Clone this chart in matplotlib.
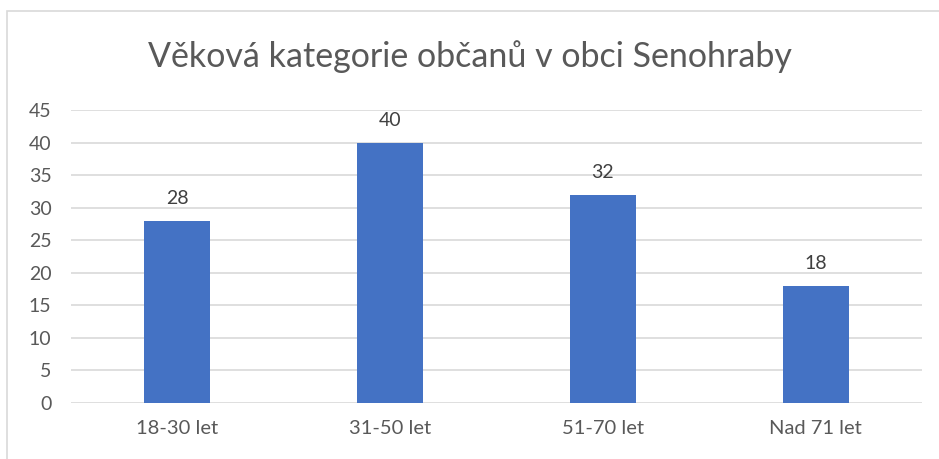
import matplotlib.pyplot as plt
import matplotlib.patches as mpatches

categories = ["18-30 let", "31-50 let", "51-70 let", "Nad 71 let"]
values = [28, 40, 32, 18]
yticks = [0, 5, 10, 15, 20, 25, 30, 35, 40, 45]
title = "Věková kategorie občanů v obci Senohraby"

plt.rcParams['font.family'] = ['Lato', 'DejaVu Sans']
text_color = "#595959"

fig = plt.figure(figsize=(9.39, 4.59), dpi=100)
fig.patches.append(mpatches.Rectangle((7 / 939, -0.1), 1.2, 1 - 11 / 459 + 0.1,
                                      transform=fig.transFigure, fill=False,
                                      edgecolor="#d9d9d9", linewidth=1.2))

ax = fig.add_axes([71 / 939, 1 - 403 / 459, (922 - 71) / 939, (403 - 110) / 459])
x = range(len(categories))
bars = ax.bar(x, values, width=0.31, color="#4472c4", zorder=3)
for b, v in zip(bars, values):
    ax.annotate(str(v), (b.get_x() + b.get_width() / 2, v), xytext=(0, 10),
                textcoords="offset points", ha="center", va="bottom",
                fontsize=14, color="#404040")

ax.set_xlim(-0.5, len(categories) - 0.5)
ax.set_ylim(0, 45)
ax.set_yticks(yticks)
ax.set_xticks(list(x))
ax.set_xticklabels(categories)
ax.yaxis.grid(True, color="#d9d9d9", linewidth=1.2, zorder=0)
ax.tick_params(axis="both", length=0, labelsize=14, labelcolor=text_color)
ax.tick_params(axis="x", labelsize=14.5, pad=12)
ax.tick_params(axis="y", pad=14)
for s in ax.spines.values():
    s.set_visible(False)

fig.text(0.5, 1 - 57 / 459, title, ha="center", va="center", fontsize=24.5, color=text_color)

fig.savefig("out.png", dpi=100)
